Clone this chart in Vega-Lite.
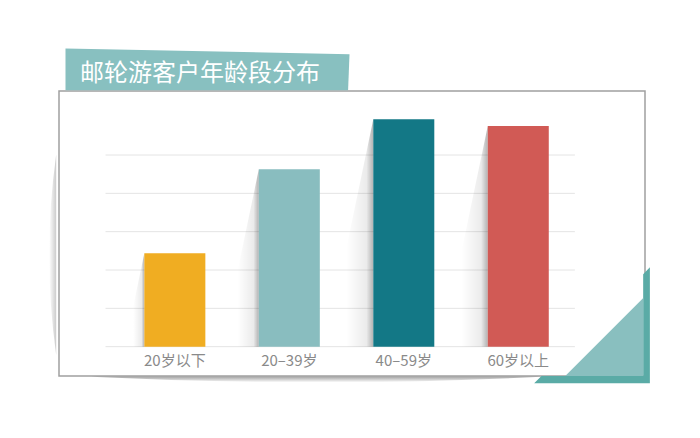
{
  "$schema": "https://vega.github.io/schema/vega-lite/v6.json",
  "width": 586,
  "height": 285,
  "autosize": {"type": "none"},
  "padding": {"left": 59, "top": 91, "right": 55, "bottom": 62},
  "background": "white",
  "datasets": {
    "ages": [
      {"cat": "20岁以下", "v": 24.4},
      {"cat": "20–39岁", "v": 46.3},
      {"cat": "40–59岁", "v": 59.3},
      {"cat": "60岁以上", "v": 57.6}
    ],
    "grid": [
      {"g": 0}, {"g": 10}, {"g": 20}, {"g": 30}, {"g": 40}, {"g": 50}
    ]
  },
  "layer": [
    {
      "data": {"name": "ages"},
      "mark": {"type": "bar", "opacity": 0},
      "encoding": {
        "x": {
          "field": "cat",
          "type": "nominal",
          "scale": {
            "domain": ["20岁以下", "20–39岁", "40–59岁", "60岁以上"],
            "paddingInner": 0.467,
            "paddingOuter": 0.793,
            "align": 0.47
          },
          "axis": {
            "title": null,
            "domain": false,
            "ticks": false,
            "grid": false,
            "labelAngle": 0,
            "labelPadding": -23,
            "labelBaseline": "top",
            "labelFontSize": 15,
            "labelFont": "Noto Sans CJK SC",
            "labelColor": "#8a8a8a"
          }
        },
        "y": {
          "field": "v",
          "type": "quantitative",
          "scale": {"domain": [-7.65, 66.7], "nice": false, "zero": false},
          "axis": null
        },
        "y2": {"datum": 0}
      }
    },
    {
      "data": {"values": [{}]},
      "mark": {
        "type": "point",
        "filled": true,
        "opacity": 1,
        "strokeWidth": 0,
        "size": 40000,
        "shape": "M 0 -1 Q -0.14 0 0 1 Z",
        "fill": {
          "gradient": "linear",
          "x1": 0, "y1": 0, "x2": 1, "y2": 0,
          "stops": [
            {"offset": 0, "color": "rgba(0,0,0,0)"},
            {"offset": 1, "color": "rgba(0,0,0,0.2)"}
          ]
        }
      },
      "encoding": {
        "x": {"datum": "20岁以下", "bandPosition": -1.445},
        "y": {"datum": 24}
      }
    },
    {
      "data": {"values": [{}]},
      "mark": {
        "type": "point",
        "filled": true,
        "opacity": 1,
        "strokeWidth": 0,
        "size": 202500,
        "shape": "M -1 0 Q 0 0.05 1 0 Z",
        "fill": {
          "gradient": "linear",
          "x1": 0, "y1": 0, "x2": 0, "y2": 1,
          "stops": [
            {"offset": 0, "color": "rgba(0,0,0,0.35)"},
            {"offset": 1, "color": "rgba(0,0,0,0)"}
          ]
        }
      },
      "encoding": {
        "x": {"datum": "20–39岁", "bandPosition": 0.94},
        "y": {"datum": -7.85}
      }
    },
    {
      "data": {"name": "grid"},
      "mark": {"type": "rule", "color": "#e4e4e4", "strokeWidth": 1},
      "encoding": {
        "y": {"field": "g", "type": "quantitative"},
        "x": {"datum": "20岁以下", "bandPosition": -0.636},
        "x2": {"datum": "60岁以上", "bandPosition": 1.428}
      }
    },
    {
      "data": {"name": "ages"},
      "mark": {
        "type": "point",
        "filled": true,
        "opacity": 1,
        "strokeWidth": 0,
        "shape": "M 0 -2 L -0.24 -0.85 L -0.24 0 L 0 0 Z",
        "fill": {
          "gradient": "linear",
          "x1": 0, "y1": 0, "x2": 1, "y2": 0,
          "stops": [
            {"offset": 0, "color": "rgba(0,0,0,0)"},
            {"offset": 0.75, "color": "rgba(0,0,0,0.08)"},
            {"offset": 1, "color": "rgba(0,0,0,0.3)"}
          ]
        }
      },
      "encoding": {
        "x": {"field": "cat", "type": "nominal", "bandPosition": 0},
        "y": {"datum": 0},
        "size": {
          "field": "v",
          "type": "quantitative",
          "scale": {"type": "pow", "exponent": 2, "domain": [0, 60], "range": [0, 52900]},
          "legend": null
        }
      }
    },
    {
      "data": {"name": "ages"},
      "mark": {"type": "bar"},
      "encoding": {
        "x": {"field": "cat", "type": "nominal"},
        "y": {"field": "v", "type": "quantitative"},
        "y2": {"datum": 0},
        "color": {
          "field": "cat",
          "type": "nominal",
          "scale": {
            "domain": ["20岁以下", "20–39岁", "40–59岁", "60岁以上"],
            "range": ["#f0ad22", "#89bdbf", "#137886", "#d15a55"]
          },
          "legend": null
        }
      }
    },
    {
      "data": {"values": [{}]},
      "mark": {
        "type": "point",
        "filled": true,
        "opacity": 1,
        "strokeWidth": 0,
        "size": 80656,
        "fill": "#88c0c0",
        "shape": "M 0 0 L 0 -0.2937 L 2 -0.2535 L 1.99 0 Z"
      },
      "encoding": {
        "x": {"datum": "20岁以下", "bandPosition": -1.292},
        "y": {"datum": 66.9}
      }
    },
    {
      "data": {"values": [{}]},
      "mark": {
        "type": "text",
        "align": "left",
        "baseline": "middle",
        "fontSize": 24,
        "font": "Noto Sans CJK SC",
        "color": "white"
      },
      "encoding": {
        "text": {"value": "邮轮游客户年龄段分布"},
        "x": {"datum": "20岁以下", "bandPosition": -1.056},
        "y": {"datum": 71.1}
      }
    },
    {
      "data": {"values": [{}]},
      "mark": {
        "type": "point",
        "filled": true,
        "opacity": 1,
        "strokeWidth": 0,
        "size": 13456,
        "fill": "#5aaba6",
        "shape": "M 0 0 L -1.995 0 L -1.869 -0.126 L -0.1155 -0.126 L -0.1155 -1.879 L 0 -2 Z"
      },
      "encoding": {
        "x": {"datum": "60岁以上", "bandPosition": 2.657},
        "y": {"datum": -9.55}
      }
    },
    {
      "data": {"values": [{}]},
      "mark": {
        "type": "point",
        "filled": true,
        "opacity": 1,
        "strokeWidth": 0,
        "size": 6084,
        "fill": "#89bfbf",
        "shape": "M 0 0 L -2 0 L 0 -2 Z"
      },
      "encoding": {
        "x": {"datum": "60岁以上", "bandPosition": 2.548},
        "y": {"datum": -7.65}
      }
    }
  ],
  "config": {
    "view": {"stroke": "#a0a0a0", "strokeWidth": 1.5, "fill": "white"}
  }
}
